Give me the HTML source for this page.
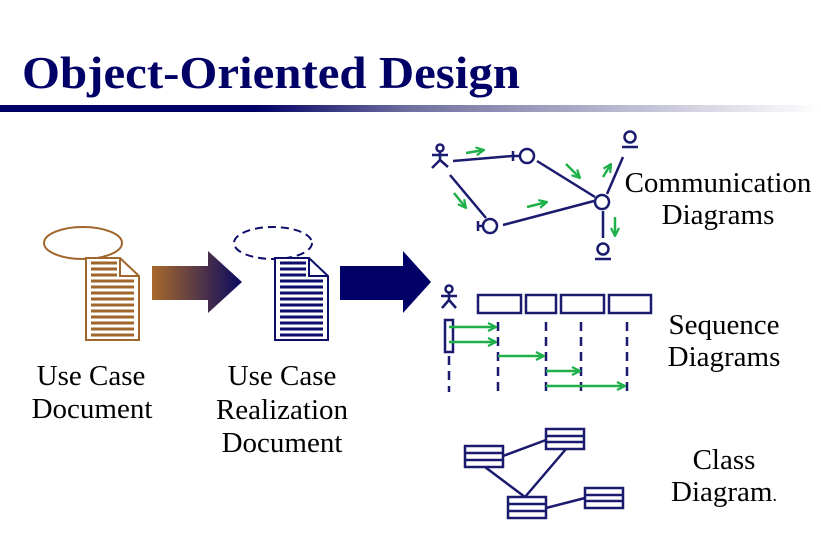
<!DOCTYPE html>
<html><head><meta charset="utf-8"><style>
html,body{margin:0;padding:0;background:#fff;}
svg{display:block;}
text{font-family:"Liberation Serif",serif;}
</style></head><body>
<svg width="821" height="550" viewBox="0 0 821 550" xmlns="http://www.w3.org/2000/svg">
<defs>
<linearGradient id="bar" x1="0" x2="1" y1="0" y2="0">
<stop offset="0" stop-color="#000066"/><stop offset="0.31" stop-color="#000066"/><stop offset="0.5" stop-color="#7070a0"/><stop offset="1" stop-color="#ffffff"/>
</linearGradient>
<linearGradient id="arr" x1="0" x2="1" y1="0" y2="0">
<stop offset="0" stop-color="#a8692a"/><stop offset="1" stop-color="#0a0a60"/>
</linearGradient>
<marker id="ah" viewBox="0 0 10 10" refX="9" refY="5" markerWidth="10" markerHeight="10" orient="auto" markerUnits="userSpaceOnUse">
<path d="M1,1 L9,5 L1,9" fill="none" stroke="#1fb04a" stroke-width="2.2"/>
</marker>
</defs>
<text x="22" y="88" font-size="45" font-weight="bold" fill="#000066" textLength="498" lengthAdjust="spacingAndGlyphs">Object-Oriented Design</text>
<rect x="0" y="105" width="821" height="7" fill="url(#bar)"/>

<!-- Doc 1 -->
<g stroke="#a0662c" fill="none" stroke-width="2">
<ellipse cx="83" cy="243" rx="39" ry="16"/>
<path d="M86,258 H120 L139,276 V340 H86 Z" fill="#fff"/>
<path d="M120,258 V276 H139"/>
</g>
<g stroke="#a0662c" stroke-width="3">
<line x1="91" y1="263" x2="117" y2="263"/><line x1="91" y1="269" x2="117" y2="269"/><line x1="91" y1="275" x2="117" y2="275"/>
<line x1="91" y1="281" x2="134" y2="281"/><line x1="91" y1="287" x2="134" y2="287"/><line x1="91" y1="293" x2="134" y2="293"/>
<line x1="91" y1="299" x2="134" y2="299"/><line x1="91" y1="305" x2="134" y2="305"/><line x1="91" y1="311" x2="134" y2="311"/>
<line x1="91" y1="317" x2="134" y2="317"/><line x1="91" y1="323" x2="134" y2="323"/><line x1="91" y1="329" x2="134" y2="329"/><line x1="91" y1="335" x2="134" y2="335"/>
</g>
<path d="M152,266 H208 V251 L242,282 L208,313 V300 H152 Z" fill="url(#arr)"/>

<!-- Doc 2 -->
<g stroke="#0d0d6b" fill="none" stroke-width="2">
<ellipse cx="273" cy="243" rx="39" ry="16" stroke-dasharray="8,5"/>
<path d="M275,258 H309 L328,276 V340 H275 Z" fill="#fff"/>
<path d="M309,258 V276 H328"/>
</g>
<g stroke="#0d0d6b" stroke-width="3">
<line x1="280" y1="263" x2="306" y2="263"/><line x1="280" y1="269" x2="306" y2="269"/><line x1="280" y1="275" x2="306" y2="275"/>
<line x1="280" y1="281" x2="323" y2="281"/><line x1="280" y1="287" x2="323" y2="287"/><line x1="280" y1="293" x2="323" y2="293"/>
<line x1="280" y1="299" x2="323" y2="299"/><line x1="280" y1="305" x2="323" y2="305"/><line x1="280" y1="311" x2="323" y2="311"/>
<line x1="280" y1="317" x2="323" y2="317"/><line x1="280" y1="323" x2="323" y2="323"/><line x1="280" y1="329" x2="323" y2="329"/><line x1="280" y1="335" x2="323" y2="335"/>
</g>
<path d="M340,266 H403 V251 L431,282 L403,313 V300 H340 Z" fill="#000066"/>

<!-- Communication diagram -->
<g stroke="#1a1a6e" stroke-width="2.5" fill="none">
<circle cx="440" cy="148" r="3.5"/><line x1="440" y1="152" x2="440" y2="160"/><line x1="432" y1="155" x2="448" y2="155"/><line x1="440" y1="160" x2="432" y2="168"/><line x1="440" y1="160" x2="448" y2="167"/>
<line x1="453" y1="161" x2="512" y2="156"/>
<circle cx="527" cy="156" r="7"/><line x1="512" y1="156" x2="520" y2="156"/><line x1="513" y1="151" x2="513" y2="161"/>
<line x1="450" y1="175" x2="486" y2="218"/>
<circle cx="490" cy="226" r="7"/><line x1="478" y1="226" x2="483" y2="226"/><line x1="478" y1="221" x2="478" y2="231"/>
<line x1="503" y1="225" x2="594" y2="201"/>
<line x1="537" y1="161" x2="595" y2="197"/>
<circle cx="602" cy="202" r="7"/>
<line x1="607" y1="194" x2="623" y2="157"/>
<circle cx="630" cy="137" r="5.5"/><line x1="622" y1="147" x2="638" y2="147"/>
<line x1="603" y1="211" x2="603" y2="238"/>
<circle cx="603" cy="249" r="5.5"/><line x1="595" y1="259" x2="611" y2="259"/>
</g>
<g stroke="#1fb04a" stroke-width="2.5" fill="none" marker-end="url(#ah)">
<line x1="466" y1="153" x2="484" y2="150"/>
<line x1="566" y1="164" x2="580" y2="178"/>
<line x1="454" y1="193" x2="466" y2="208"/>
<line x1="527" y1="207" x2="547" y2="202"/>
<line x1="603" y1="177" x2="611" y2="164"/>
<line x1="615" y1="217" x2="615" y2="236"/>
</g>

<!-- Sequence diagram -->
<g stroke="#1a1a6e" stroke-width="2.5" fill="none">
<circle cx="449" cy="289" r="3.5"/><line x1="449" y1="293" x2="449" y2="300"/><line x1="441" y1="296" x2="457" y2="296"/><line x1="449" y1="300" x2="442" y2="308"/><line x1="449" y1="300" x2="456" y2="308"/>
<rect x="478" y="295" width="43" height="18"/><rect x="526" y="295" width="30" height="18"/><rect x="561" y="295" width="43" height="18"/><rect x="609" y="295" width="42" height="18"/>
<rect x="445" y="320" width="8" height="32"/>
<g stroke-dasharray="9,6">
<line x1="449" y1="356" x2="449" y2="392"/>
<line x1="498" y1="322" x2="498" y2="392"/>
<line x1="546" y1="322" x2="546" y2="392"/>
<line x1="581" y1="322" x2="581" y2="392"/>
<line x1="627" y1="322" x2="627" y2="392"/>
</g>
</g>
<g stroke="#1fb04a" stroke-width="2.5" fill="none" marker-end="url(#ah)">
<line x1="449" y1="327" x2="496" y2="327"/>
<line x1="449" y1="342" x2="496" y2="342"/>
<line x1="498" y1="356" x2="544" y2="356"/>
<line x1="546" y1="371" x2="580" y2="371"/>
<line x1="546" y1="386" x2="625" y2="386"/>
</g>

<!-- Class diagram -->
<g stroke="#1a1a6e" stroke-width="2.5" fill="none">
<line x1="503" y1="456" x2="546" y2="440"/>
<line x1="566" y1="449" x2="525" y2="497"/>
<line x1="485" y1="467" x2="525" y2="497"/>
<line x1="546" y1="508" x2="585" y2="498"/>
<rect x="465" y="446" width="38" height="21" fill="#fff"/><line x1="465" y1="453" x2="503" y2="453"/><line x1="465" y1="460" x2="503" y2="460"/>
<rect x="546" y="429" width="38" height="20" fill="#fff"/><line x1="546" y1="436" x2="584" y2="436"/><line x1="546" y1="442" x2="584" y2="442"/>
<rect x="508" y="497" width="38" height="21" fill="#fff"/><line x1="508" y1="504" x2="546" y2="504"/><line x1="508" y1="511" x2="546" y2="511"/>
<rect x="585" y="488" width="38" height="20" fill="#fff"/><line x1="585" y1="495" x2="623" y2="495"/><line x1="585" y1="501" x2="623" y2="501"/>
</g>

<!-- Labels -->
<g font-size="29" fill="#000" text-anchor="middle">
<text x="91" y="385">Use Case</text>
<text x="92" y="418">Document</text>
<text x="282" y="385">Use Case</text>
<text x="282" y="419">Realization</text>
<text x="282" y="452">Document</text>
<text x="718" y="192">Communication</text>
<text x="718" y="224">Diagrams</text>
<text x="724" y="334">Sequence</text>
<text x="724" y="366">Diagrams</text>
<text x="724" y="469">Class</text>
<text x="724" y="501">Diagram<tspan font-size="18">.</tspan></text>
</g>
</svg>
</body></html>
